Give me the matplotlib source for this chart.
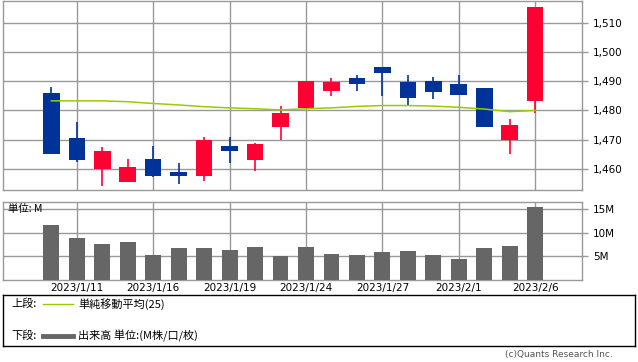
import matplotlib
matplotlib.use("Agg")
import matplotlib.pyplot as plt
from matplotlib.ticker import FuncFormatter

plt.rcParams['font.family'] = ['DejaVu Sans', 'Noto Sans CJK JP']

dates = ['2023/1/10', '2023/1/11', '2023/1/12', '2023/1/13', '2023/1/16',
         '2023/1/17', '2023/1/18', '2023/1/19', '2023/1/20', '2023/1/23',
         '2023/1/24', '2023/1/25', '2023/1/26', '2023/1/27', '2023/1/30',
         '2023/1/31', '2023/2/1', '2023/2/2', '2023/2/3', '2023/2/6']
opens = [1486, 1470.5, 1460, 1455.5, 1463.3, 1459, 1457.6, 1468, 1463, 1474.3,
         1481, 1486.6, 1491, 1495, 1489.7, 1490, 1489.2, 1487.8, 1470, 1483.2]
highs = [1488, 1476, 1467.5, 1463.3, 1468, 1462, 1471, 1471, 1469, 1481.4,
         1490, 1491, 1492, 1495, 1492.3, 1491.6, 1492, 1487.8, 1477, 1515.5]
lows = [1465, 1462.5, 1454, 1455.5, 1457.3, 1455, 1456, 1462, 1459.3, 1470,
        1481, 1485, 1486.6, 1485, 1482, 1483.8, 1485.2, 1474.3, 1465, 1479]
closes = [1465, 1463, 1466, 1460.5, 1457.6, 1457.6, 1470, 1466, 1468.5, 1479,
          1490, 1489.7, 1489.2, 1492.7, 1484.2, 1486.3, 1485.2, 1474.3, 1475, 1515.5]
ma25 = [1483.3, 1483.3, 1483.3, 1483.0, 1482.4, 1481.9, 1481.3, 1480.9, 1480.6, 1480.2,
        1480.6, 1480.9, 1481.4, 1481.7, 1481.7, 1481.5, 1481.1, 1480.5, 1479.6, 1480.0]
volume = [11.7, 8.9, 7.7, 8.1, 5.4, 6.9, 6.9, 6.4, 7.1, 5.0,
          7.1, 5.6, 5.4, 6.0, 6.2, 5.4, 4.5, 6.8, 7.2, 15.6]

price_ticks = [1460, 1470, 1480, 1490, 1500, 1510]
vol_ticks = [5, 10, 15]
label_idx = [1, 4, 7, 10, 13, 16, 19]

UP = '#ff0033'
DOWN = '#003399'
GRID = '#999999'
FS = 7.5

W, H = 638, 362
fig = plt.figure(figsize=(W / 100, H / 100), dpi=100)

def frac(x0, y0, x1, y1):
    return [x0 / W, 1 - y1 / H, (x1 - x0) / W, (y1 - y0) / H]

ax = fig.add_axes(frac(3, 0.6, 582, 190))
vax = fig.add_axes(frac(3, 202.3, 582, 280))

x = list(range(len(dates)))
colors = [UP if c >= o else DOWN for o, c in zip(opens, closes)]
ax.vlines(x, lows, highs, colors=colors, lw=1.2, zorder=2)
ax.bar(x, [abs(c - o) for o, c in zip(opens, closes)], bottom=[min(o, c) for o, c in zip(opens, closes)],
       width=0.65, color=colors, zorder=3)
ax.plot(x, ma25, color='#99cc00', lw=1.1, zorder=4)

ax.set_xlim(-1.9, 20.84)
ax.set_ylim(1452.8, 1517.6)
ax.set_xticks(label_idx)
ax.set_xticklabels([])
ax.set_yticks(price_ticks)
ax.yaxis.set_major_formatter(FuncFormatter(lambda v, p: f'{int(v):,}'))

vax.bar(x, volume, width=0.62, color='#666666', zorder=3)
vax.set_xlim(-1.9, 20.84)
vax.set_ylim(0, 16.5)
vax.set_xticks(label_idx)
vax.set_xticklabels([dates[i] for i in label_idx])
vax.set_yticks(vol_ticks)
vax.set_yticklabels([f'{v}M' for v in vol_ticks])
vax.text(0.009, 0.985, '単位: M', transform=vax.transAxes, fontsize=FS, va='top', ha='left',
         family=['Noto Sans CJK JP', 'DejaVu Sans'], zorder=5)

for a in (ax, vax):
    a.grid(True, color=GRID, lw=1)
    a.set_axisbelow(True)
    for s in a.spines.values():
        s.set_color(GRID)
        s.set_linewidth(1)
    a.yaxis.tick_right()
    a.tick_params(axis='y', which='both', length=4, width=1, color=GRID, labelsize=FS, pad=4)
    a.tick_params(axis='x', length=0, labelsize=FS, pad=2.5)

# legend box
lax = fig.add_axes(frac(3.3, 295.3, 635, 346))
lax.set_xlim(3.3, 635)
lax.set_ylim(346, 295.3)
lax.set_xticks([])
lax.set_yticks([])
for s in lax.spines.values():
    s.set_color('black')
    s.set_linewidth(1)
jp = ['Noto Sans CJK JP', 'DejaVu Sans']
lax.text(11, 304, '上段:', fontsize=8, va='center', family=jp)
lax.plot([43, 73], [304, 304], color='#99cc00', lw=1)
lax.text(78, 304, '単純移動平均(25)', fontsize=8, va='center', family=jp)
lax.text(11, 336, '下段:', fontsize=8, va='center', family=jp)
lax.plot([43, 73], [336, 336], color='#666666', lw=3.5)
lax.text(78, 336, '出来高 単位:(M株/口/枚)', fontsize=8, va='center', family=jp)

fig.text(613 / W, 1 - 355 / H, '(c)Quants Research Inc.', fontsize=6.5, color='#555555',
         ha='right', va='center')

fig.savefig('out.png', dpi=100)
